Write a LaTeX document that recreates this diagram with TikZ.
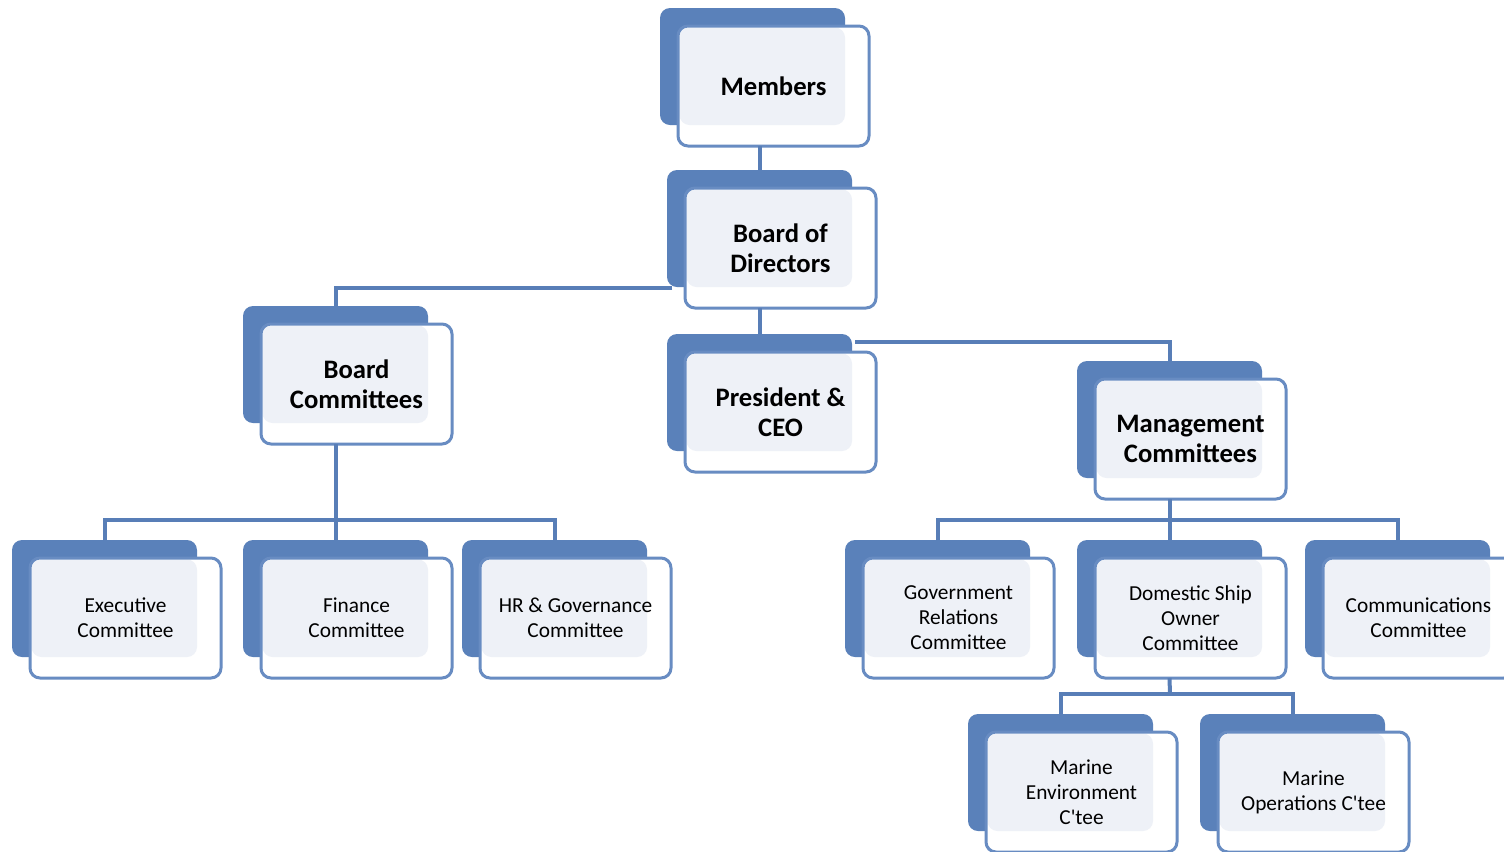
\documentclass[tikz,border=0pt]{standalone}
\usepackage{fontspec}
\setmainfont{Carlito}
\definecolor{backblue}{RGB}{90,129,186}
\definecolor{borderblue}{RGB}{104,140,194}
\definecolor{lightfill}{RGB}{238,241,247}
\definecolor{connblue}{RGB}{88,126,183}
\tikzset{
  frontbox/.style={draw=borderblue, line width=2.25pt, rounded corners=7.5pt,
    minimum width=143.25pt, minimum height=90pt, inner sep=0pt, outer sep=0pt,
    align=center, text=black},
  bigtext/.style={font=\bfseries\fontsize{20}{22.5}\selectfont},
  smalltext/.style={font=\fontsize{16}{18.75}\selectfont},
  conn/.style={draw=connblue, line width=3pt, line join=miter}
}
\newcommand\orgbox[5]{%
  \fill[backblue, rounded corners=7.5pt] (#2-18,#3-18) rectangle (#2+167,#3+99);
  \fill[white, rounded corners=7.5pt] (#2,#3) rectangle (#2+191,#3+120);
  \fill[lightfill, rounded corners=7.5pt] (#2+1.5,#3+1.5) rectangle (#2+167,#3+99);
  \node[frontbox,#4] (#1) at (#2+95.5,#3+60) {#5};
  \coordinate (#1-top) at (#2+74.5,#3-18);
  \coordinate (#1-bot) at (#2+74.5,#3+120);
}
\begin{document}
\begin{tikzpicture}[x=0.75pt,y=-0.75pt]
\useasboundingbox (0,0) rectangle (1504,851);
\clip (0,0) rectangle (1504,851);
\fill[white] (0,0) rectangle (1504,851);
\coordinate (bod-left) at (672,288);
\coordinate (pres-right) at (855,342);
\orgbox{mem}{678}{26}{bigtext}{Members}
\orgbox{bod}{685}{188}{bigtext}{Board of\\Directors}
\orgbox{bc}{261}{324}{bigtext}{Board\\Committees}
\orgbox{pres}{685}{352}{bigtext}{President \&\\CEO}
\orgbox{mgmt}{1095}{379}{bigtext}{Management\\Committees}
\orgbox{exec}{30}{558}{smalltext}{Executive\\Committee}
\orgbox{fin}{261}{558}{smalltext}{Finance\\Committee}
\orgbox{hr}{480}{558}{smalltext}{HR \& Governance\\Committee}
\orgbox{gov}{863}{558}{smalltext}{Government\\Relations\\Committee}
\orgbox{dom}{1095}{558}{smalltext}{Domestic Ship\\Owner\\Committee}
\orgbox{comm}{1323}{558}{smalltext}{Communications\\Committee}
\orgbox{menv}{986}{732}{smalltext}{Marine\\Environment\\C\textquotesingle tee}
\orgbox{mops}{1218}{732}{smalltext}{Marine\\Operations C\textquotesingle tee}
% connectors
\draw[conn] (bod-top |- mem-bot) -- (bod-top);
\draw[conn] (bod-bot) -- (pres-top);
\draw[conn] (bod-left) -| (bc-top);
\draw[conn] (pres-right) -| (mgmt-top);
\draw[conn] (bc-bot) -- (fin-top);
\coordinate (bcbus) at (336,520);
\draw[conn] (exec-top) -- (exec-top |- bcbus) -- (hr-top |- bcbus) -- (hr-top);
\draw[conn] (mgmt-bot) -- (dom-top);
\coordinate (mbus) at (1170,520);
\draw[conn] (gov-top) -- (gov-top |- mbus) -- (comm-top |- mbus) -- (comm-top);
\coordinate (dbus) at (1170,694);
\draw[conn] (dom-bot) -- (dbus);
\draw[conn] (menv-top) -- (menv-top |- dbus) -- (mops-top |- dbus) -- (mops-top);
\end{tikzpicture}
\end{document}
